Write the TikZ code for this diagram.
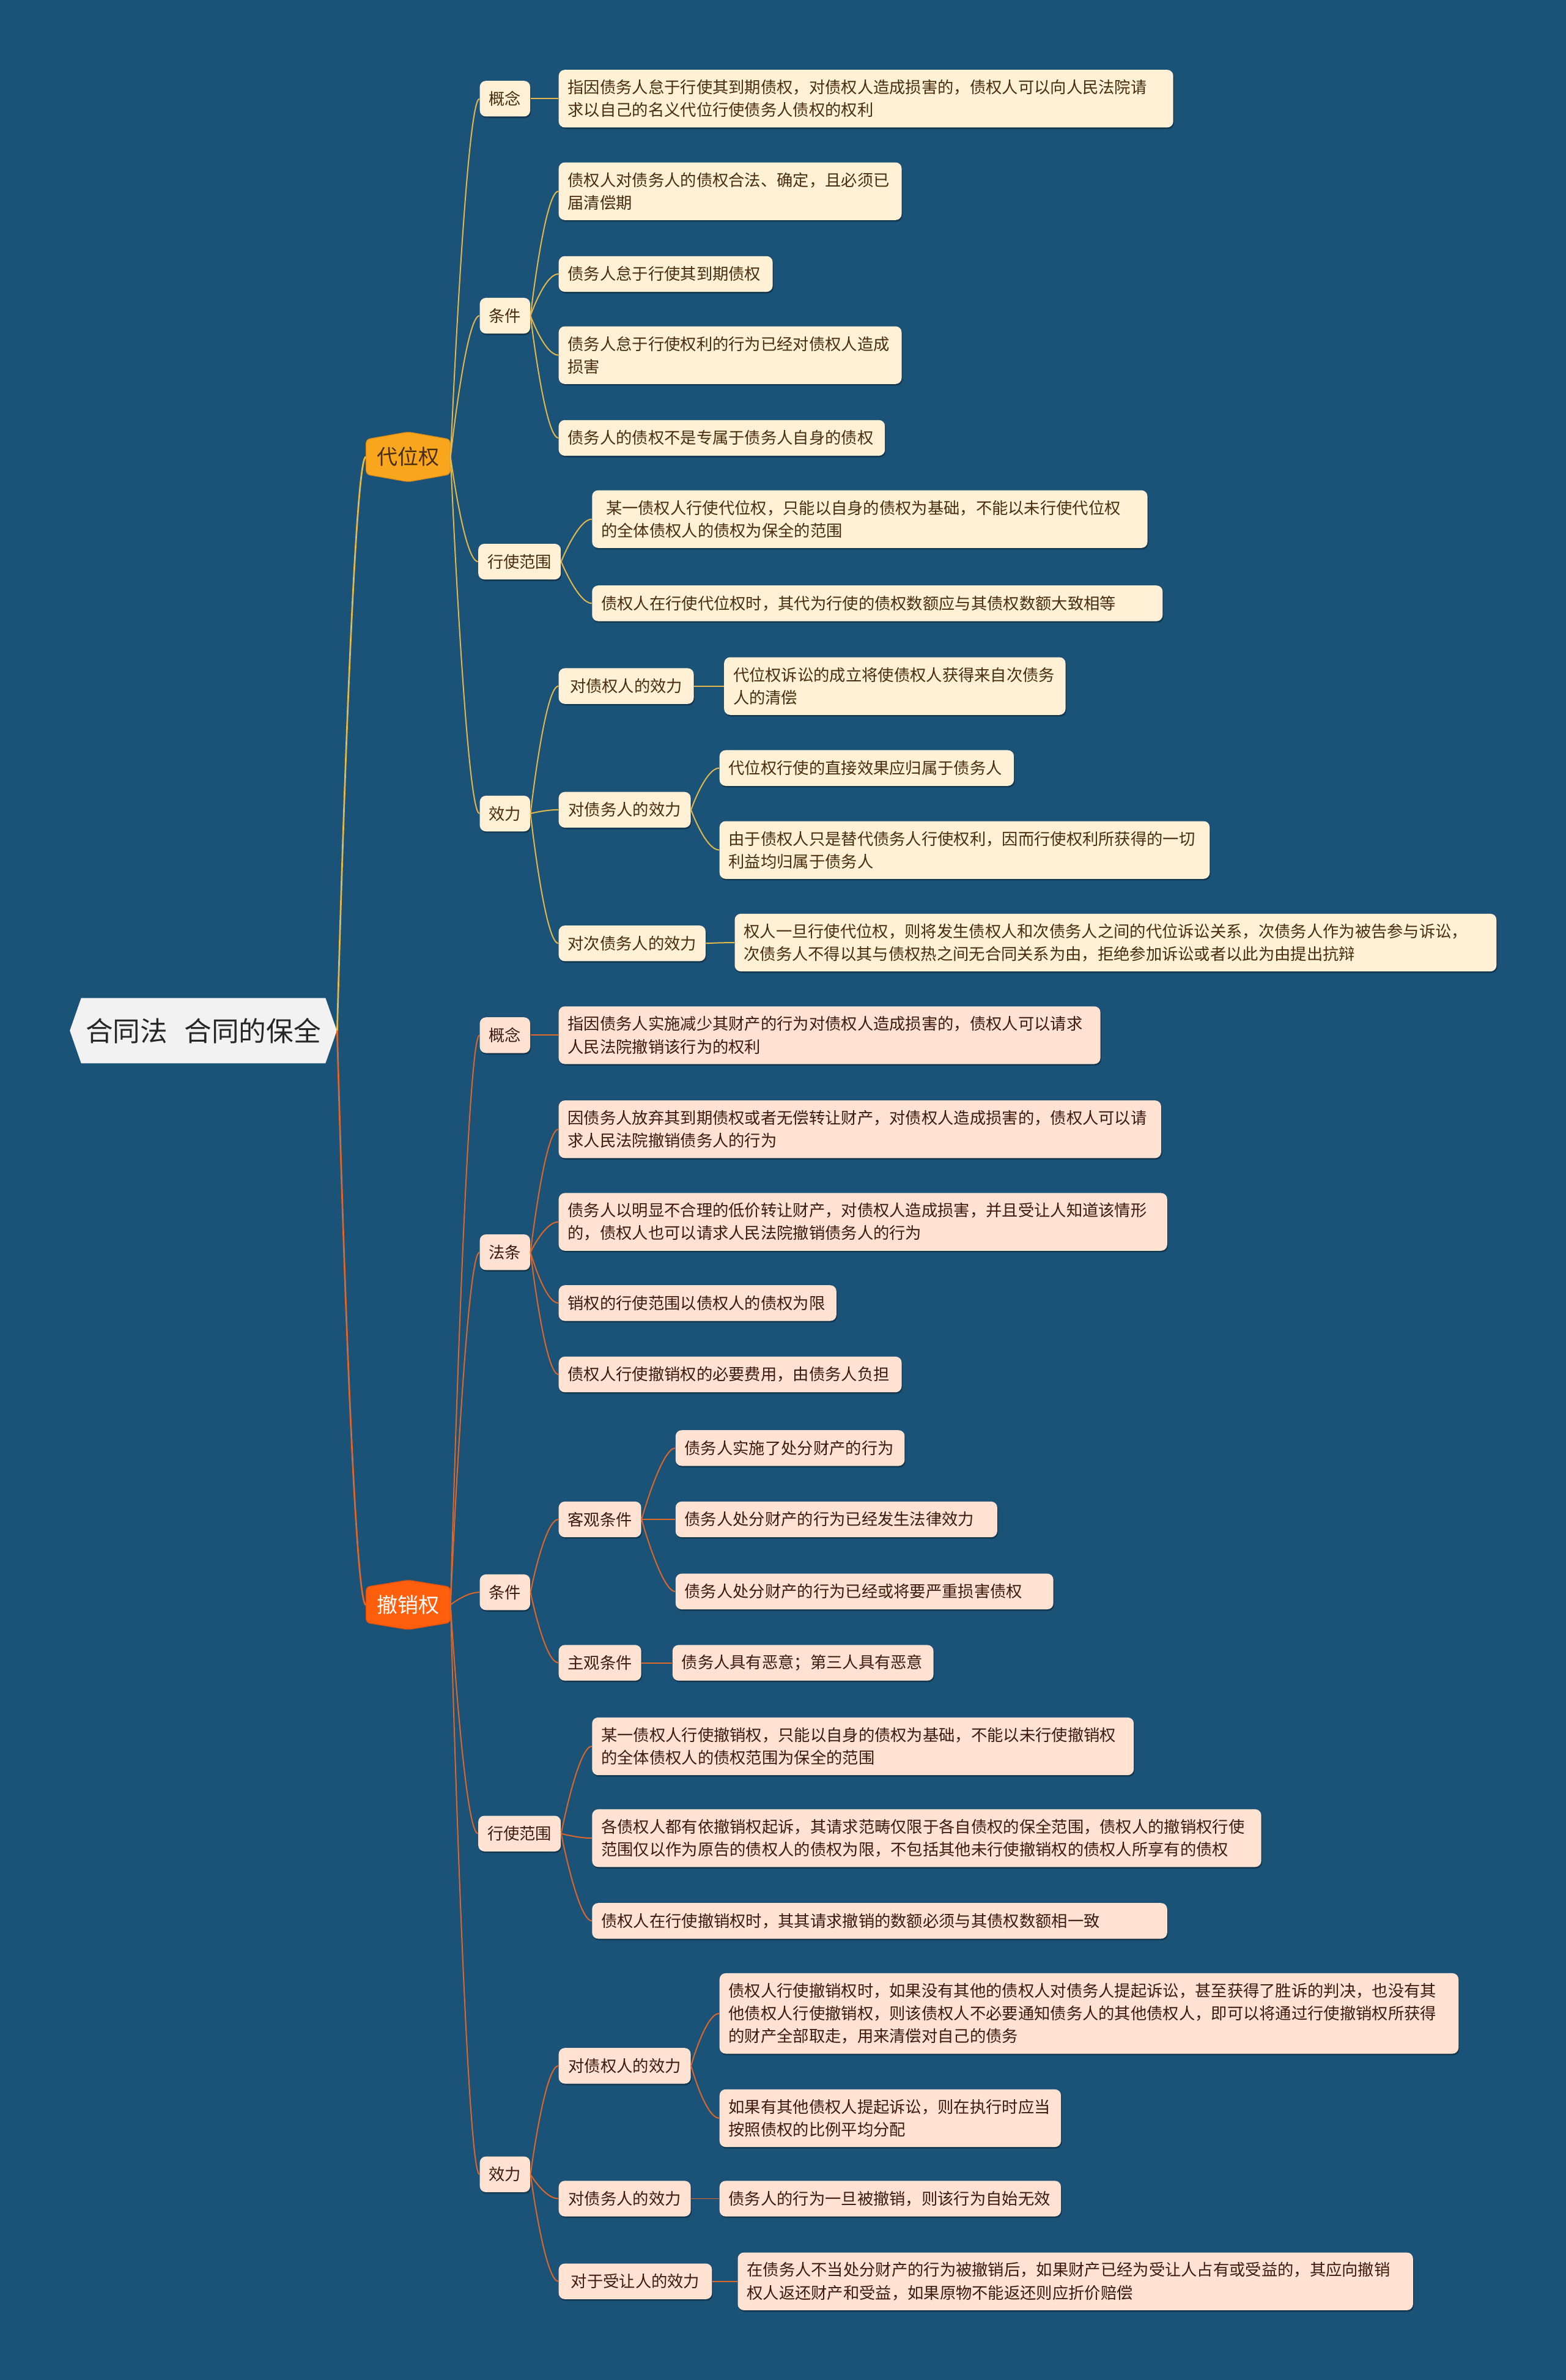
\documentclass[tikz,border=0pt]{standalone}
\usepackage{fontspec}
\newfontfamily\cjk{Noto Sans CJK SC}
\usetikzlibrary{calc,shadows}
\definecolor{bgc}{RGB}{27,83,120}
\definecolor{creamA}{RGB}{255,240,214}
\definecolor{peachA}{RGB}{255,226,210}
\definecolor{txtA}{RGB}{72,45,14}
\definecolor{txtB}{RGB}{62,26,10}
\definecolor{lineY}{RGB}{228,184,76}
\definecolor{lineO}{RGB}{222,102,42}
\definecolor{hexY}{RGB}{247,166,30}
\definecolor{hexYd}{RGB}{226,142,20}
\definecolor{hexO}{RGB}{255,94,12}
\definecolor{hexOd}{RGB}{230,80,8}
\definecolor{rootF}{RGB}{242,242,242}
\definecolor{rootT}{RGB}{38,38,38}
\begin{document}
\begin{tikzpicture}[x=1pt,y=-1pt,
  boxbase/.style={rectangle, rounded corners=4pt, inner xsep=6pt, inner ysep=2pt, anchor=west,
    font=\cjk\fontsize{10.6}{15}\selectfont,
    drop shadow={shadow xshift=0.5pt, shadow yshift=-1pt, opacity=0.35, fill=black}},
  boxC/.style={boxbase, fill=creamA, text=txtA},
  boxP/.style={boxbase, fill=peachA, text=txtB},
  oneL/.style={minimum height=23.5pt},
  twoL/.style={minimum height=38pt},
  threeL/.style={minimum height=53pt},
  wd/.style={text width=#1, align=left},
  mmc/.style={to path={.. controls (\tikztostart) and ($(\tikztotarget)+(-9,0)$) .. (\tikztotarget)}},
  lnY/.style={draw=lineY, line width=0.8pt, mmc},
  lnO/.style={draw=lineO, line width=0.8pt, mmc},
  lnYa/.style={draw=lineY, line width=1.1pt, mmc},
  lnOa/.style={draw=lineO, line width=1.1pt, mmc},
]
\fill[bgc] (0,0) rectangle (1032,1568);
\useasboundingbox (0,0) rectangle (1032,1568);

% root shape
\fill[rootF] (46,679) -- (53.5,657.5) -- (214.5,657.5) -- (222,679) -- (214.5,700.5) -- (53.5,700.5) -- cycle;
\node[inner sep=0, minimum width=176pt, minimum height=43pt, text=rootT,
  font=\cjk\fontsize{18}{20}\selectfont] (root) at (134,679) {合同法\hspace{0.62em}合同的保全};

% level 1 hexagons
\filldraw[fill=hexY, draw=hexYd, line width=0.5pt, rounded corners=2.5pt]
  (241.3,289.5) -- (269,284.6) -- (296.7,289.5) -- (296.7,312.5) -- (269,317.4) -- (241.3,312.5) -- cycle;
\node[inner sep=0, minimum width=55.4pt, minimum height=32pt, text=txtA,
  font=\cjk\fontsize{13.7}{16}\selectfont] (dw) at (269,301) {代位权};
\filldraw[fill=hexO, draw=hexOd, line width=0.5pt, rounded corners=2.5pt]
  (241.3,1045.5) -- (269,1041) -- (296.7,1045.5) -- (296.7,1069) -- (269,1073.6) -- (241.3,1069) -- cycle;
\node[inner sep=0, minimum width=55.4pt, minimum height=32pt, text=white,
  font=\cjk\fontsize{13.7}{16}\selectfont] (cx) at (269,1057.3) {撤销权};

% ===== 代位权 branch =====
\node[boxC,oneL] (ga) at (316,65) {概念};
\node[boxC,twoL,wd=393pt] (aga) at (368,65) {指因债务人怠于行使其到期债权，对债权人造成损害的，债权人可以向人民法院请\\求以自己的名义代位行使债务人债权的权利};

\node[boxC,oneL] (tja) at (316,208) {条件};
\node[boxC,twoL,wd=214pt] (at1) at (368,126) {债权人对债务人的债权合法、确定，且必须已\\届清偿期};
\node[boxC,oneL,wd=129pt] (at2) at (368,180.5) {债务人怠于行使其到期债权};
\node[boxC,twoL,wd=214pt] (at3) at (368,234) {债务人怠于行使权利的行为已经对债权人造成\\损害};
\node[boxC,oneL,wd=203pt] (at4) at (368,288.5) {债务人的债权不是专属于债务人自身的债权};

\node[boxC,oneL] (fwa) at (315,370) {行使范围};
\node[boxC,twoL,wd=354pt] (af1) at (390,342) {\hspace{0.3em}某一债权人行使代位权，只能以自身的债权为基础，不能以未行使代位权\\的全体债权人的债权为保全的范围};
\node[boxC,oneL,wd=364pt] (af2) at (390,397.5) {债权人在行使代位权时，其代为行使的债权数额应与其债权数额大致相等};

\node[boxC,oneL] (xla) at (316,536) {效力};
\node[boxC,oneL,minimum width=89pt] (xa) at (368,452) {对债权人的效力};
\node[boxC,twoL,wd=213pt] (axa) at (477,452) {代位权诉讼的成立将使债权人获得来自次债务\\人的清偿};
\node[boxC,oneL,minimum width=87pt] (xb) at (368,533.5) {对债务人的效力};
\node[boxC,oneL,wd=182pt] (axb1) at (474,506) {代位权行使的直接效果应归属于债务人};
\node[boxC,twoL,wd=311pt] (axb2) at (474,560) {由于债权人只是替代债务人行使权利，因而行使权利所获得的一切\\利益均归属于债务人};
\node[boxC,oneL,minimum width=96pt] (xc) at (368,621.5) {对次债务人的效力};
\node[boxC,twoL,wd=490pt] (axc) at (484,621) {权人一旦行使代位权，则将发生债权人和次债务人之间的代位诉讼关系，次债务人作为被告参与诉讼，\\次债务人不得以其与债权热之间无合同关系为由，拒绝参加诉讼或者以此为由提出抗辩};

% ===== 撤销权 branch =====
\node[boxP,oneL] (gb) at (316,682) {概念};
\node[boxP,twoL,wd=345pt] (bgn) at (368,682) {指因债务人实施减少其财产的行为对债权人造成损害的，债权人可以请求\\人民法院撤销该行为的权利};

\node[boxP,oneL] (ftb) at (316,825) {法条};
\node[boxP,twoL,wd=385pt] (bf1) at (368,744) {因债务人放弃其到期债权或者无偿转让财产，对债权人造成损害的，债权人可以请\\求人民法院撤销债务人的行为};
\node[boxP,twoL,wd=389pt] (bf2) at (368,805) {债务人以明显不合理的低价转让财产，对债权人造成损害，并且受让人知道该情形\\的，债权人也可以请求人民法院撤销债务人的行为};
\node[boxP,oneL,wd=171pt] (bf3) at (368,858.5) {销权的行使范围以债权人的债权为限};
\node[boxP,oneL,wd=214pt] (bf4) at (368,905.5) {债权人行使撤销权的必要费用，由债务人负担};

\node[boxP,oneL] (tjb) at (316,1049) {条件};
\node[boxP,oneL] (kg) at (368,1001) {客观条件};
\node[boxP,oneL,wd=139pt] (bk1) at (445,954) {债务人实施了处分财产的行为};
\node[boxP,oneL,wd=200pt] (bk2) at (445,1001) {债务人处分财产的行为已经发生法律效力};
\node[boxP,oneL,wd=237pt] (bk3) at (445,1048.5) {债务人处分财产的行为已经或将要严重损害债权};
\node[boxP,oneL] (zg) at (368,1095.5) {主观条件};
\node[boxP,oneL,wd=160pt] (bz) at (443,1095.5) {债务人具有恶意；第三人具有恶意};

\node[boxP,oneL] (fwb) at (315,1208) {行使范围};
\node[boxP,twoL,wd=345pt] (bw1) at (390,1150.5) {某一债权人行使撤销权，只能以自身的债权为基础，不能以未行使撤销权\\的全体债权人的债权范围为保全的范围};
\node[boxP,twoL,wd=429pt] (bw2) at (390,1211) {各债权人都有依撤销权起诉，其请求范畴仅限于各自债权的保全范围，债权人的撤销权行使\\范围仅以作为原告的债权人的债权为限，不包括其他未行使撤销权的债权人所享有的债权};
\node[boxP,oneL,wd=367pt] (bw3) at (390,1265.5) {债权人在行使撤销权时，其其请求撤销的数额必须与其债权数额相一致};

\node[boxP,oneL] (xlb) at (316,1432.5) {效力};
\node[boxP,oneL,minimum width=87pt] (ya) at (368,1361) {对债权人的效力};
\node[boxP,threeL,wd=475pt] (by1) at (474,1326.5) {债权人行使撤销权时，如果没有其他的债权人对债务人提起诉讼，甚至获得了胜诉的判决，也没有其\\他债权人行使撤销权，则该债权人不必要通知债务人的其他债权人，即可以将通过行使撤销权所获得\\的财产全部取走，用来清偿对自己的债务};
\node[boxP,twoL,wd=213pt] (by2) at (474,1395.5) {如果有其他债权人提起诉讼，则在执行时应当\\按照债权的比例平均分配};
\node[boxP,oneL,minimum width=87pt] (yb) at (368,1448.5) {对债务人的效力};
\node[boxP,oneL,wd=213pt] (byb) at (474,1448.5) {债务人的行为一旦被撤销，则该行为自始无效};
\node[boxP,oneL,minimum width=101pt] (yc) at (368,1503) {对于受让人的效力};
\node[boxP,twoL,wd=433pt] (byc) at (486,1503) {在债务人不当处分财产的行为被撤销后，如果财产已经为受让人占有或受益的，其应向撤销\\权人返还财产和受益，如果原物不能返还则应折价赔偿};

% ===== connectors =====
\draw[lnYa] (root.east) to (dw.west);
\draw[lnOa] (root.east) to (cx.west);

\foreach \c in {ga,tja,fwa,xla} \draw[lnY] (dw.east) to (\c.west);
\draw[lnY] (ga.east) to (aga.west);
\foreach \c in {at1,at2,at3,at4} \draw[lnY] (tja.east) to (\c.west);
\foreach \c in {af1,af2} \draw[lnY] (fwa.east) to (\c.west);
\foreach \c in {xa,xb,xc} \draw[lnY] (xla.east) to (\c.west);
\draw[lnY] (xa.east) to (axa.west);
\foreach \c in {axb1,axb2} \draw[lnY] (xb.east) to (\c.west);
\draw[lnY] (xc.east) to (axc.west);

\foreach \c in {gb,ftb,tjb,fwb,xlb} \draw[lnO] (cx.east) to (\c.west);
\draw[lnO] (gb.east) to (bgn.west);
\foreach \c in {bf1,bf2,bf3,bf4} \draw[lnO] (ftb.east) to (\c.west);
\foreach \c in {kg,zg} \draw[lnO] (tjb.east) to (\c.west);
\foreach \c in {bk1,bk2,bk3} \draw[lnO] (kg.east) to (\c.west);
\draw[lnO] (zg.east) to (bz.west);
\foreach \c in {bw1,bw2,bw3} \draw[lnO] (fwb.east) to (\c.west);
\foreach \c in {ya,yb,yc} \draw[lnO] (xlb.east) to (\c.west);
\foreach \c in {by1,by2} \draw[lnO] (ya.east) to (\c.west);
\draw[lnO] (yb.east) to (byb.west);
\draw[lnO] (yc.east) to (byc.west);
\end{tikzpicture}
\end{document}
